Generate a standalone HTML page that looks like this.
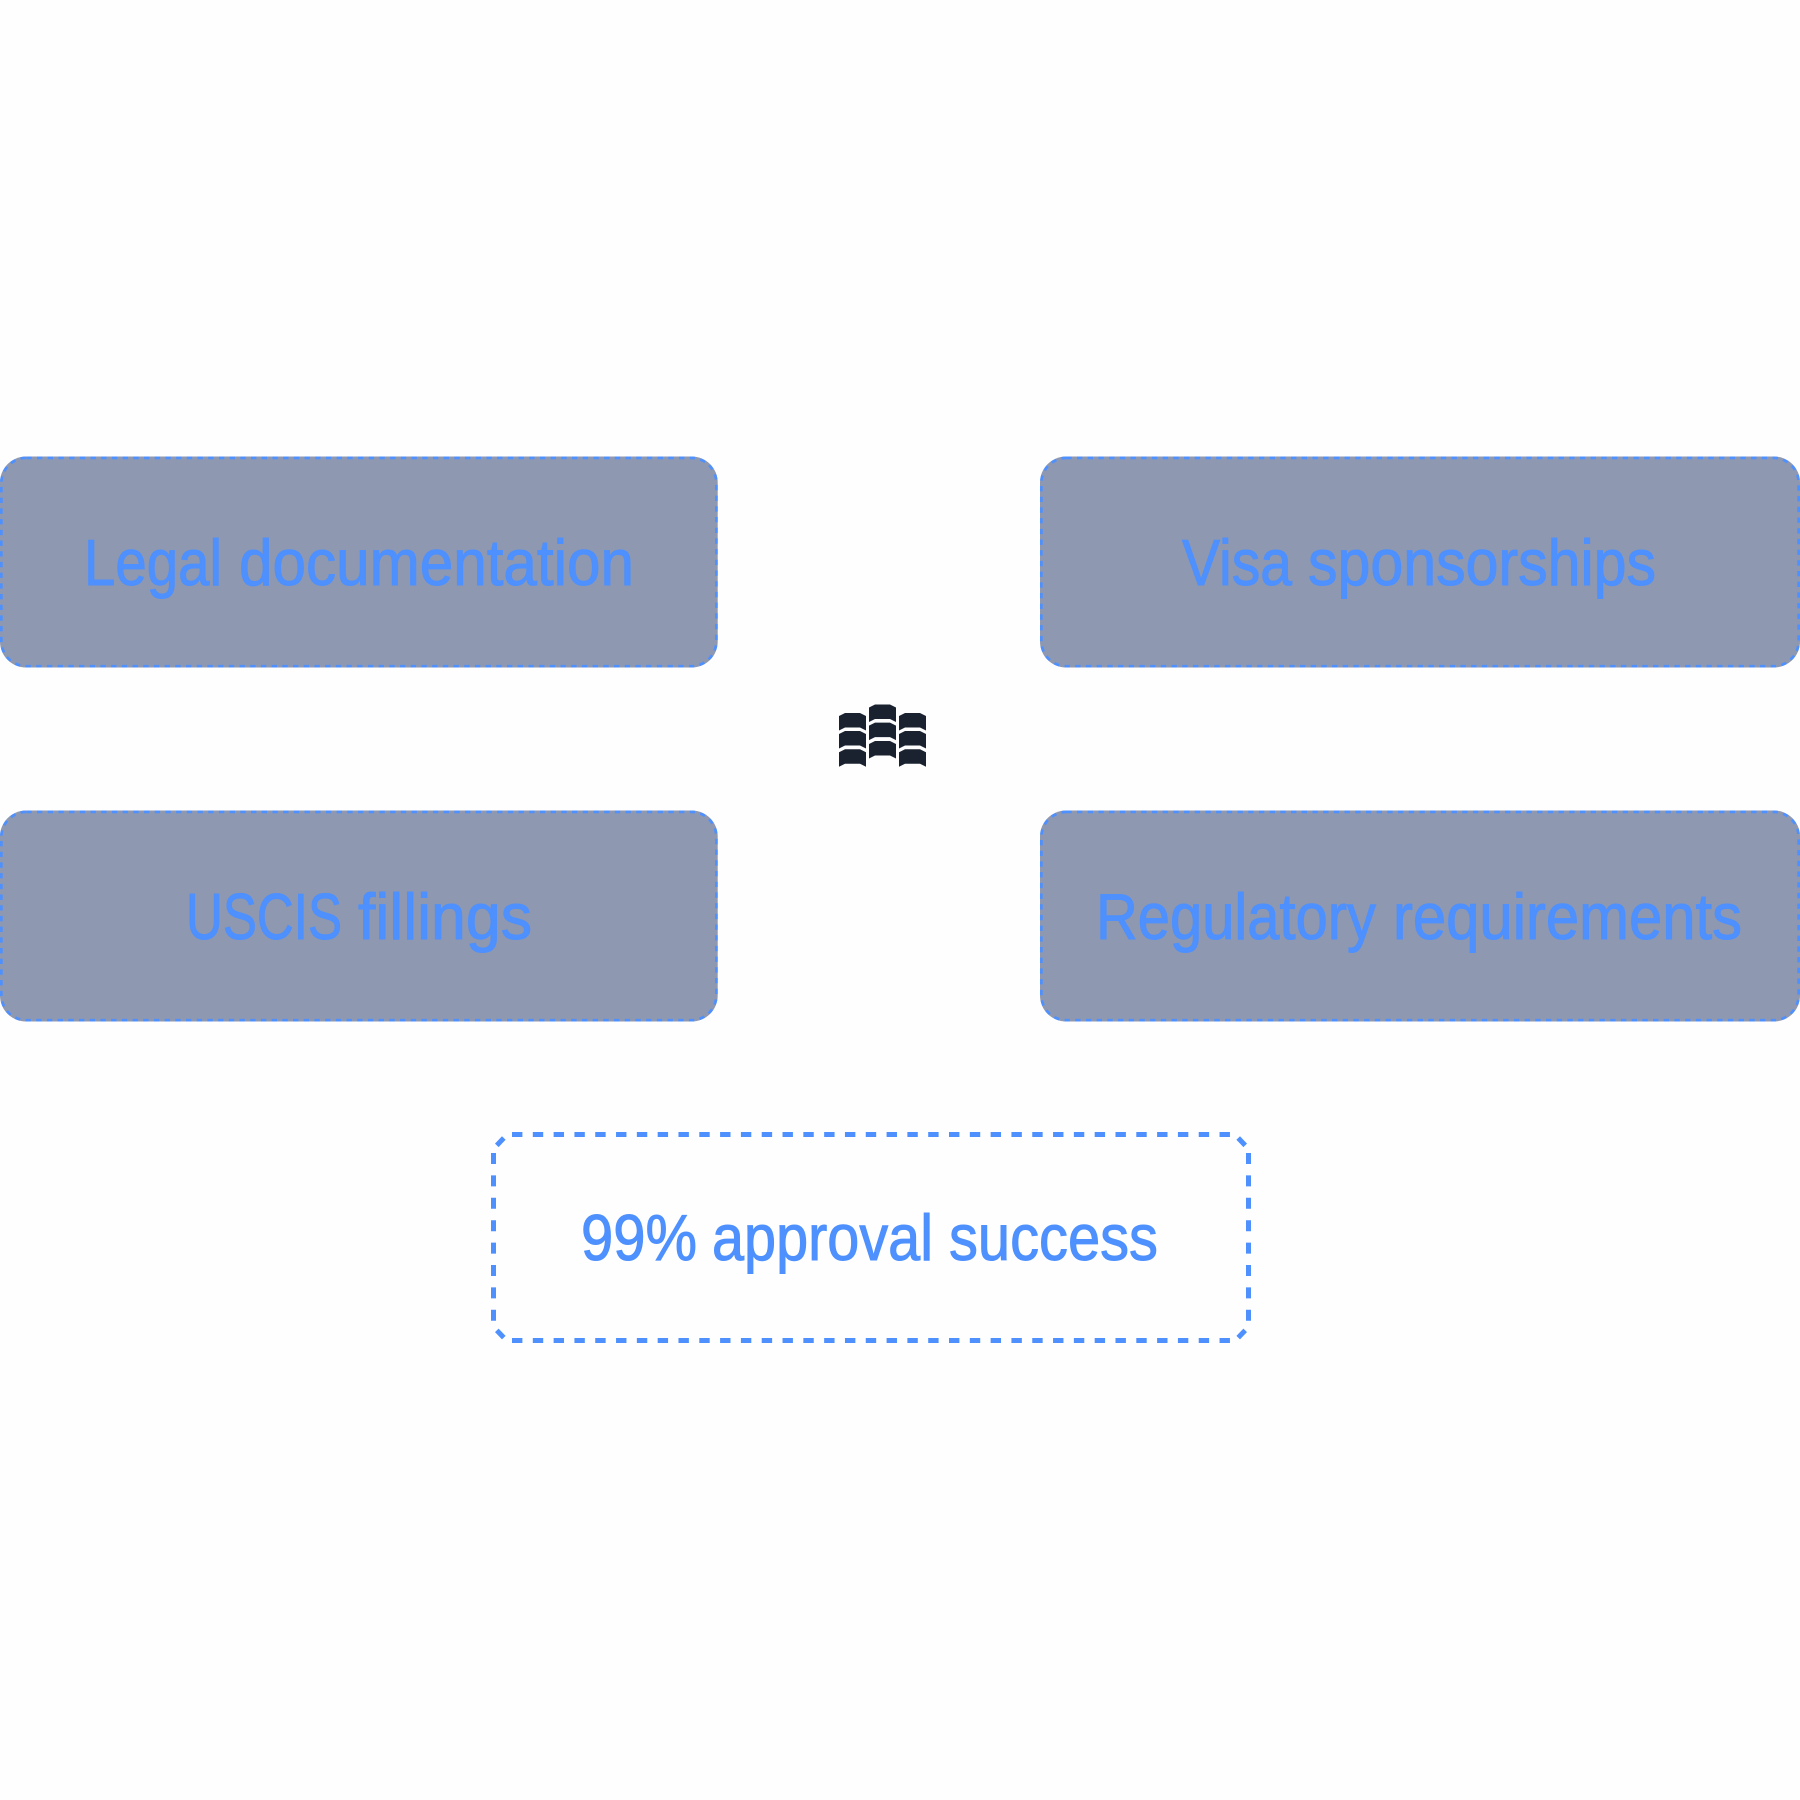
<!DOCTYPE html>
<html><head><meta charset="utf-8"><style>html,body{margin:0;padding:0;background:#fefefe}svg{display:block}text{font-family:"Liberation Sans",sans-serif;font-size:65px;fill:#4d90fe;stroke:#4d90fe;stroke-width:1}</style></head><body>
<svg xmlns="http://www.w3.org/2000/svg" width="1800" height="1800" viewBox="0 0 1800 1800">
<rect width="1800" height="1800" fill="#fefefe"/>
<g fill="#8e98b0">
<rect x="0" y="456.5" width="717.7" height="211" rx="26"/>
<rect x="1040" y="456.5" width="760" height="211" rx="26"/>
<rect x="0" y="810.5" width="717.7" height="211" rx="26"/>
<rect x="1040" y="810.5" width="760" height="211" rx="26"/>
</g>
<g fill="none" stroke="#4d90fe" stroke-width="2.7" stroke-dasharray="5.3 5.4">
<rect x="1.35" y="457.9" width="715" height="208.3" rx="25"/>
<rect x="1041.35" y="457.9" width="757.3" height="208.3" rx="25"/>
<rect x="1.35" y="811.9" width="715" height="208.3" rx="25"/>
<rect x="1041.35" y="811.9" width="757.3" height="208.3" rx="25"/>
</g>
<g fill="none" stroke="#4d90fe" stroke-width="5">
<path d="M512 1134.5H1230" stroke-dasharray="10.4 10.41"/>
<path d="M512 1340.5H1230" stroke-dasharray="10.4 10.41"/>
<path d="M493.5 1153V1322" stroke-dasharray="11 11.4"/>
<path d="M1248.5 1153V1322" stroke-dasharray="11 11.4"/>
<path d="M496.8 1145.4L503.8 1138"/>
<path d="M1238.2 1138L1245.2 1145.4"/>
<path d="M496.8 1330.4L503.8 1337.6"/>
<path d="M1238.2 1337.6L1245.2 1330.4"/>
</g>
<text x="84" y="585" textLength="138" lengthAdjust="spacingAndGlyphs">Legal</text>
<text x="239" y="585" textLength="395" lengthAdjust="spacingAndGlyphs">documentation</text>
<text x="1182" y="585" textLength="110" lengthAdjust="spacingAndGlyphs">Visa</text>
<text x="1308" y="585" textLength="348" lengthAdjust="spacingAndGlyphs">sponsorships</text>
<text x="186" y="939" textLength="156" lengthAdjust="spacingAndGlyphs">USCIS</text>
<text x="358" y="939" textLength="174" lengthAdjust="spacingAndGlyphs">fillings</text>
<text x="1096" y="939" textLength="280" lengthAdjust="spacingAndGlyphs">Regulatory</text>
<text x="1393" y="939" textLength="349" lengthAdjust="spacingAndGlyphs">requirements</text>
<text x="581" y="1260" textLength="116" lengthAdjust="spacingAndGlyphs">99%</text>
<text x="712" y="1260" textLength="221" lengthAdjust="spacingAndGlyphs">approval</text>
<text x="949" y="1260" textLength="209" lengthAdjust="spacingAndGlyphs">success</text>
<g fill="#1a2230">
<polygon transform="translate(839,713)" points="0,3 6,0 21,0 27,3 27,17.5 21,14.5 6,14.5 0,17.5"/>
<polygon transform="translate(839,731)" points="0,3 6,0 21,0 27,3 27,17.5 21,14.5 6,14.5 0,17.5"/>
<polygon transform="translate(839,749.3)" points="0,3 6,0 21,0 27,3 27,17.5 21,14.5 6,14.5 0,17.5"/>
<polygon transform="translate(869,704.5)" points="0,3 6,0 21,0 27,3 27,17.5 21,14.5 6,14.5 0,17.5"/>
<polygon transform="translate(869,722.6)" points="0,3 6,0 21,0 27,3 27,17.5 21,14.5 6,14.5 0,17.5"/>
<polygon transform="translate(869,741)" points="0,3 6,0 21,0 27,3 27,17.5 21,14.5 6,14.5 0,17.5"/>
<polygon transform="translate(899,713)" points="0,3 6,0 21,0 27,3 27,17.5 21,14.5 6,14.5 0,17.5"/>
<polygon transform="translate(899,731)" points="0,3 6,0 21,0 27,3 27,17.5 21,14.5 6,14.5 0,17.5"/>
<polygon transform="translate(899,749.3)" points="0,3 6,0 21,0 27,3 27,17.5 21,14.5 6,14.5 0,17.5"/>
</g>
</svg>
</body></html>
